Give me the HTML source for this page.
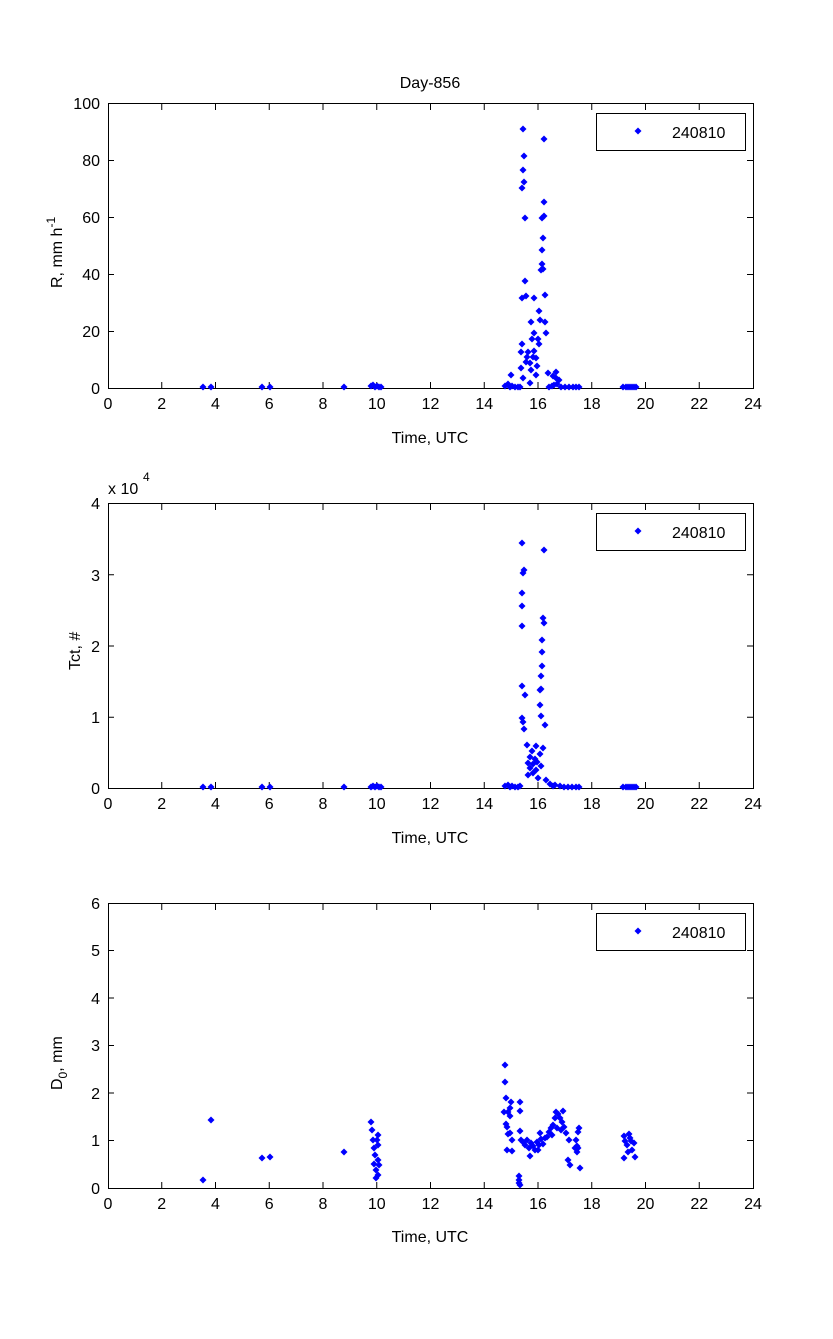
<!DOCTYPE html>
<html><head><meta charset="utf-8"><style>
html,body{margin:0;padding:0;background:#fff}
svg text{font-family:"Liberation Sans",sans-serif;font-size:16px;fill:#000}
</style></head><body>
<svg width="833" height="1334" xmlns="http://www.w3.org/2000/svg">
<defs>
<marker id="d" markerUnits="userSpaceOnUse" markerWidth="8" markerHeight="8" refX="4" refY="4" overflow="visible">
<path d="M4,0.5 L7.5,4 L4,7.5 L0.5,4 Z" fill="#0000ff"/>
</marker>
</defs>
<rect width="833" height="1334" fill="#fff"/>
<text x="430" y="88" text-anchor="middle">Day-856</text>

<g fill="none" stroke="#000" stroke-width="1">
<rect x="108.5" y="103.5" width="645" height="285"/>
<rect x="108.5" y="503.5" width="645" height="285"/>
<rect x="108.5" y="903.5" width="645" height="285"/>
<path d="M161.75,388v-6M215.5,388v-6M269.25,388v-6M323,388v-6M376.75,388v-6M430.5,388v-6M484.25,388v-6M538,388v-6M591.75,388v-6M645.5,388v-6M699.25,388v-6
M161.75,104v6M215.5,104v6M269.25,104v6M323,104v6M376.75,104v6M430.5,104v6M484.25,104v6M538,104v6M591.75,104v6M645.5,104v6M699.25,104v6
M161.75,788v-6M215.5,788v-6M269.25,788v-6M323,788v-6M376.75,788v-6M430.5,788v-6M484.25,788v-6M538,788v-6M591.75,788v-6M645.5,788v-6M699.25,788v-6
M161.75,504v6M215.5,504v6M269.25,504v6M323,504v6M376.75,504v6M430.5,504v6M484.25,504v6M538,504v6M591.75,504v6M645.5,504v6M699.25,504v6
M161.75,1188v-6M215.5,1188v-6M269.25,1188v-6M323,1188v-6M376.75,1188v-6M430.5,1188v-6M484.25,1188v-6M538,1188v-6M591.75,1188v-6M645.5,1188v-6M699.25,1188v-6
M161.75,904v6M215.5,904v6M269.25,904v6M323,904v6M376.75,904v6M430.5,904v6M484.25,904v6M538,904v6M591.75,904v6M645.5,904v6M699.25,904v6
M108,160.5h6M108,217.5h6M108,274.5h6M108,331.5h6M753,160.5h-6M753,217.5h-6M753,274.5h-6M753,331.5h-6
M108,574.75h6M108,646h6M108,717.25h6M753,574.75h-6M753,646h-6M753,717.25h-6
M108,950.5h6M108,998h6M108,1045.5h6M108,1093h6M108,1140.5h6M753,950.5h-6M753,998h-6M753,1045.5h-6M753,1093h-6M753,1140.5h-6"/>
<rect x="596.5" y="113.5" width="149" height="37"/>
<rect x="596.5" y="513.5" width="149" height="37"/>
<rect x="596.5" y="913.5" width="149" height="37"/>
</g>

<g text-anchor="middle">
<text x="108" y="409">0</text><text x="161.75" y="409">2</text><text x="215.5" y="409">4</text><text x="269.25" y="409">6</text><text x="323" y="409">8</text><text x="376.75" y="409">10</text><text x="430.5" y="409">12</text><text x="484.25" y="409">14</text><text x="538" y="409">16</text><text x="591.75" y="409">18</text><text x="645.5" y="409">20</text><text x="699.25" y="409">22</text><text x="753" y="409">24</text>
<text x="108" y="809">0</text><text x="161.75" y="809">2</text><text x="215.5" y="809">4</text><text x="269.25" y="809">6</text><text x="323" y="809">8</text><text x="376.75" y="809">10</text><text x="430.5" y="809">12</text><text x="484.25" y="809">14</text><text x="538" y="809">16</text><text x="591.75" y="809">18</text><text x="645.5" y="809">20</text><text x="699.25" y="809">22</text><text x="753" y="809">24</text>
<text x="108" y="1209">0</text><text x="161.75" y="1209">2</text><text x="215.5" y="1209">4</text><text x="269.25" y="1209">6</text><text x="323" y="1209">8</text><text x="376.75" y="1209">10</text><text x="430.5" y="1209">12</text><text x="484.25" y="1209">14</text><text x="538" y="1209">16</text><text x="591.75" y="1209">18</text><text x="645.5" y="1209">20</text><text x="699.25" y="1209">22</text><text x="753" y="1209">24</text>
<text x="430" y="443">Time, UTC</text>
<text x="430" y="843">Time, UTC</text>
<text x="430" y="1242">Time, UTC</text>
</g>
<g text-anchor="end">
<text x="100" y="394">0</text><text x="100" y="337">20</text><text x="100" y="280">40</text><text x="100" y="223">60</text><text x="100" y="166">80</text><text x="100" y="109">100</text>
<text x="100" y="794">0</text><text x="100" y="723">1</text><text x="100" y="652">2</text><text x="100" y="581">3</text><text x="100" y="509">4</text>
<text x="100" y="1194">0</text><text x="100" y="1146">1</text><text x="100" y="1099">2</text><text x="100" y="1051">3</text><text x="100" y="1004">4</text><text x="100" y="956">5</text><text x="100" y="909">6</text>
</g>
<text x="108" y="494">x 10</text><text x="143" y="481" style="font-size:12px">4</text>
<text transform="translate(62,288) rotate(-90)">R, mm h<tspan dy="-7" style="font-size:12px">-1</tspan></text>
<text transform="translate(80,670) rotate(-90)">Tct, #</text>
<text transform="translate(62,1090) rotate(-90)">D<tspan dy="5" style="font-size:12px">0</tspan><tspan dy="-5">, mm</tspan></text>

<text x="672" y="138">240810</text><text x="672" y="538">240810</text><text x="672" y="938">240810</text>
<polyline points="638,131 638,131" fill="none" stroke="none" marker-start="url(#d)"/>
<polyline points="638,531 638,531" fill="none" stroke="none" marker-start="url(#d)"/>
<polyline points="638,931 638,931" fill="none" stroke="none" marker-start="url(#d)"/>

<polyline fill="none" stroke="none" marker-start="url(#d)" marker-mid="url(#d)" marker-end="url(#d)" points="
203,387 211,387 262,387 270,387 344,387 371,386 373,385 375,387 377,386 379,387 381,387
505,386 508,384 510,387 512,386 515,387 518,387 520,387
523,129 544,139 524,156 523,170 524,182 522,188 544,202 525,218 542,218 544,216 543,238 542,250 542,264 541,270 543,269 525,281 522,298 526,296 534,298 545,295 539,311 531,322 540,320 545,322 534,333 546,333 532,339 538,339 539,344 522,344 528,352 521,352 527,357 534,351 526,362 530,363 536,358 533,357 521,368 531,370 537,366 523,378 536,375 511,375 530,383 548,373 553,376 556,372 556,378 559,380 554,385 549,387 552,386 557,384 561,387 565,387 569,387 573,387 576,387 579,387
623,387 626,387 628,387 630,387 632,387 634,387 636,387"/>

<polyline fill="none" stroke="none" marker-start="url(#d)" marker-mid="url(#d)" marker-end="url(#d)" points="
203,787 211,787 262,787 270,787 344,787 371,787 373,786 375,787 377,786 379,787 381,787
505,786 508,785 510,787 512,786 515,787 518,787 520,786
522,543 544,550 524,570 523,573 522,593 522,606 522,626 543,618 544,623 542,640 542,652 542,666 541,676 522,686 525,695 540,690 541,689 522,718 523,722 524,729 540,705 541,716 545,725 527,745 536,746 543,748 532,751 530,757 535,759 540,754 528,763 533,764 537,762 530,768 536,770 541,766 533,773 528,775 538,778 546,780 550,784 553,786 555,785 560,786 564,787 568,787 572,787 576,787 579,787
623,787 626,787 628,787 630,787 632,787 634,787 636,787"/>

<polyline fill="none" stroke="none" marker-start="url(#d)" marker-mid="url(#d)" marker-end="url(#d)" points="
203,1180 211,1120 262,1158 270,1157 344,1152
371,1122 372,1130 373,1140 374,1148 375,1155 377,1140 378,1160 374,1164 376,1170 378,1175 379,1165 376,1178 378,1145 378,1135
505,1065 505,1082 506,1098 511,1102 510,1108 508,1112 504,1112 510,1116 506,1124 507,1127 510,1133 508,1134 512,1140 507,1150 512,1151 520,1102 520,1111 520,1131 521,1140
523,1142 525,1145 527,1140 529,1148 531,1143 533,1146 535,1150 537,1142 539,1145 541,1139 543,1144 545,1138 540,1133 538,1150 530,1156
519,1176 519,1180 519,1183 520,1185
547,1137 549,1132 551,1128 553,1125 555,1118 556,1112 558,1114 560,1118 562,1122 564,1127 561,1130 557,1128 566,1133 552,1135 563,1111
569,1140 575,1148 568,1160 570,1165 577,1146 578,1132 576,1140 579,1128 578,1148 580,1168 577,1152
624,1136 625,1141 630,1138 627,1145 634,1143 632,1150 624,1158 635,1157 628,1152 629,1134 631,1141"/>
</svg>
</body></html>
